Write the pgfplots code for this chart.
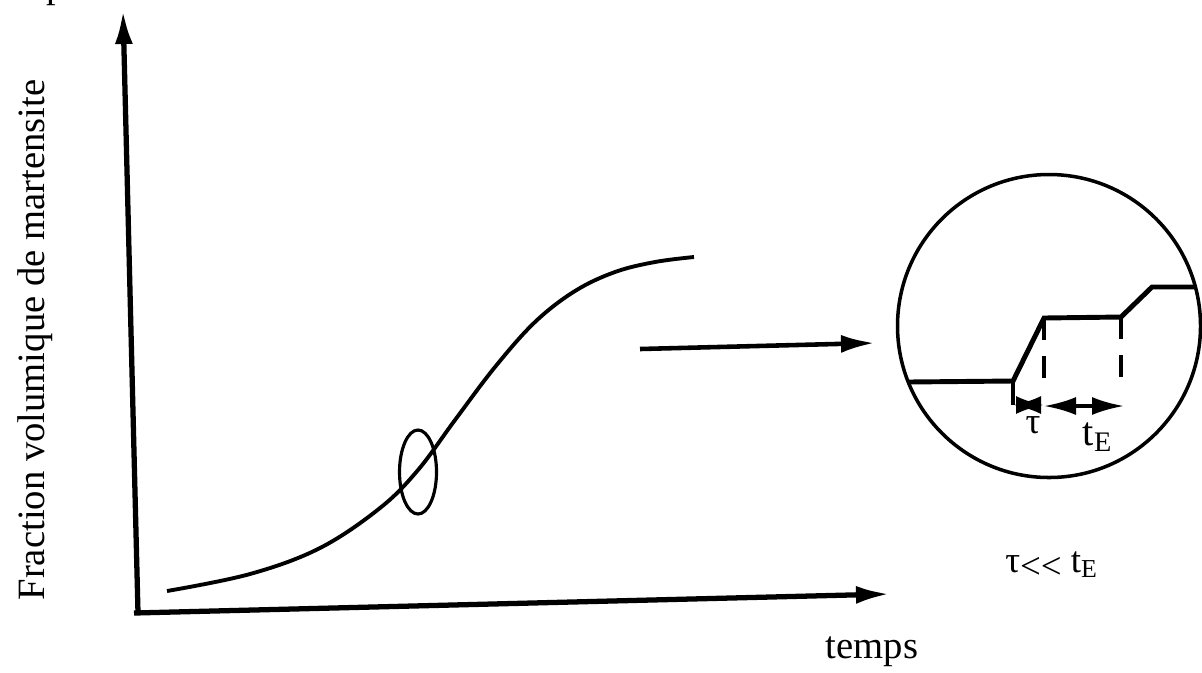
\documentclass[border=0pt]{standalone}
\usepackage{pgfplots}
\pgfplotsset{compat=1.18}
\usepackage{fontspec}
\setmainfont{Liberation Serif}
\usetikzlibrary{arrows.meta}
\newcommand\tauchar{\char"03C4}
\begin{document}
\begin{tikzpicture}
% one pixel of the reference = 0.1 mm
\begin{axis}[scale only axis, width=120.2mm, height=67.2mm,
  xmin=0, xmax=1202, ymin=0, ymax=672, y dir=reverse,
  hide axis, clip=false]
% axes
\addplot[line width=1.5pt, -{Latex[length=3.4mm, width=1.8mm]}]
  coordinates {(138,613) (123,10)};
\addplot[line width=1.5pt, -{Latex[length=3.4mm, width=1.8mm]}]
  coordinates {(134,613) (890,594)};
% transformation curve
\addplot[line width=1.1pt, smooth, tension=0.6]
  coordinates {(167,591) (250,574) (320,548) (380,508) (418,470)
    (455,420) (495,367) (535,322) (575,291) (615,272) (655,262) (694,257)};
% arrow towards the inset
\addplot[line width=1.3pt, -{Latex[length=3.4mm, width=1.8mm]}]
  coordinates {(640,349) (875,343)};
% inset: step curve
\addplot[line width=1.4pt]
  coordinates {(908,382) (1013,381) (1044,318) (1121,317) (1152,287) (1196,287)};
\addplot[line width=1.2pt] coordinates {(1013,381) (1013,405)};
\addplot[line width=1.2pt, dash pattern=on 2.2mm off 1.6mm]
  coordinates {(1044,318) (1044,390)};
\addplot[line width=1.2pt, dash pattern=on 2.2mm off 1.6mm]
  coordinates {(1121,317) (1121,390)};
\addplot[line width=1pt, {Latex[length=2.8mm, width=1.8mm]}-{Latex[length=2.8mm, width=1.8mm]}]
  coordinates {(1013,405) (1044,405)};
\addplot[line width=1pt, {Latex[length=3.2mm, width=1.8mm]}-{Latex[length=3.2mm, width=1.8mm]}]
  coordinates {(1044,406) (1124,406)};
\draw[line width=0.9pt] (axis cs:418,472) ellipse [x radius=1.85mm, y radius=4.2mm];
\draw[line width=1pt] (axis cs:1049,326) circle [radius=15.15mm];
% texts
\node[rotate=90, font=\fontsize{11}{13}\selectfont] at (axis cs:35,340)
  {Fraction volumique de martensite};
\node[font=\fontsize{11}{12}\selectfont] at (axis cs:872,652) {temps};
\node[font=\fontsize{10.5}{12}\selectfont] at (axis cs:1033,425) {\tauchar};
\node[font=\fontsize{11.5}{12}\selectfont] at (axis cs:1098,437) {t\textsubscript{E}};
\node[font=\fontsize{10.5}{12}\selectfont] at (axis cs:1052,565)
  {\tauchar\raisebox{-0.4ex}{{<}{<}} t\textsubscript{E}};
\node[font=\fontsize{11}{12}\selectfont, anchor=base] at (axis cs:56,-2) {p};
\end{axis}
\pgfresetboundingbox
\path[use as bounding box] (0,0) rectangle (120.2mm,67.2mm);
\end{tikzpicture}
\end{document}
